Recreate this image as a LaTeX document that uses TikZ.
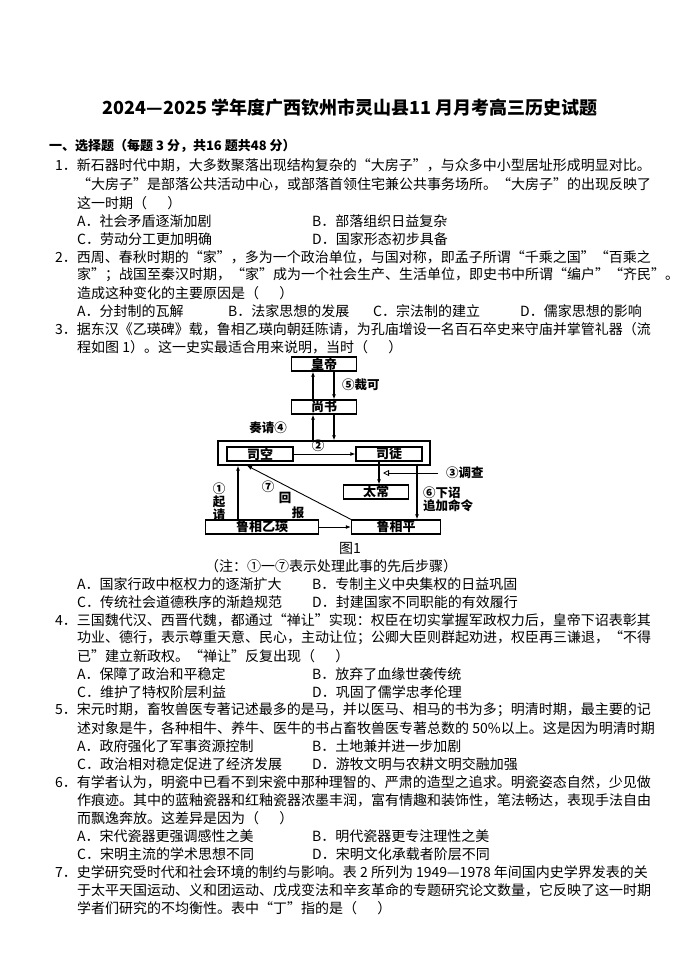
\documentclass[tikz,border=0pt]{standalone}
\usepackage{fontspec}
\setmainfont{Noto Sans CJK SC}
\usetikzlibrary{arrows.meta}
\newcommand\tl[4]{\node[txt] (#1) at (#2,#3) {#4};}
\begin{document}
\begin{tikzpicture}[x=1pt,y=-1pt,
 txt/.style={anchor=west,inner sep=0,font=\fontsize{14}{16}\selectfont},
 bx/.style={draw,line width=1.3pt,inner sep=0,minimum width=#1,minimum height=14,font=\fontsize{13}{14}\selectfont\bfseries},
 dl/.style={font=\fontsize{12.5}{14}\selectfont\bfseries,inner sep=0},
 ar/.style={line width=1.3pt,-{Latex[length=5pt,width=4pt]}},
 thin/.style={line width=0.9pt,-{Latex[length=5pt,width=4pt]}}]
\useasboundingbox (0,0) rectangle (700,980);
\fill[white] (0,0) rectangle (700,980);
\node[font=\fontsize{18}{20}\selectfont\bfseries,inner sep=0] (title) at (350,108) {2024—2025 学年度广西钦州市灵山县11 月月考高三历史试题};
\node[txt,font=\fontsize{13}{16}\selectfont\bfseries] (sec) at (49,146) {一、选择题（每题 3 分，共16 题共48 分）};
\tl{a1}{55}{165}{1．新石器时代中期，大多数聚落出现结构复杂的“大房子”，与众多中小型居址形成明显对比。}
\tl{a2}{77}{184}{“大房子”是部落公共活动中心，或部落首领住宅兼公共事务场所。“大房子”的出现反映了}
\tl{a3}{77}{203}{这一时期（\quad\ \ ）}
\tl{a4}{77}{221}{A．社会矛盾逐渐加剧}
\tl{a5}{312}{221}{B．部落组织日益复杂}
\tl{a6}{77}{239}{C．劳动分工更加明确}
\tl{a7}{312}{239}{D．国家形态初步具备}
\tl{b1}{55}{257}{2．西周、春秋时期的“家”，多为一个政治单位，与国对称，即孟子所谓“千乘之国”“百乘之}
\tl{b2}{77}{275}{家”；战国至秦汉时期，“家”成为一个社会生产、生活单位，即史书中所谓“编户”“齐民”。}
\tl{b3}{77}{293}{造成这种变化的主要原因是（\quad\ \ ）}
\tl{b4}{77}{311}{A．分封制的瓦解}
\tl{b5}{228}{311}{B．法家思想的发展}
\tl{b6}{373}{311}{C．宗法制的建立}
\tl{b7}{520}{311}{D．儒家思想的影响}
\tl{c1}{55}{329}{3．据东汉《乙瑛碑》载，鲁相乙瑛向朝廷陈请，为孔庙增设一名百石卒史来守庙并掌管礼器（流}
\tl{c2}{77}{347}{程如图 1）。这一史实最适合用来说明，当时（\quad\ \ ）}
% diagram
\node[bx=65] (hd) at (324,364) {皇帝};
\node[bx=65] (ss) at (324,407) {尚书};
\node[draw,line width=1.3pt,minimum width=212,minimum height=24,inner sep=0] (big) at (324,453) {};
\node[bx=66] (sk) at (260,454) {司空};
\node[bx=66] (st) at (389,454) {司徒};
\node[bx=65] (tc) at (376,492) {太常};
\node[bx=113] (yy) at (262,527) {鲁相乙瑛};
\node[bx=89] (lp) at (396,527) {鲁相平};
\draw[ar] (ss.north-|313,0) -- (hd.south-|313,0);
\draw[ar] (hd.south-|334,0) -- (ss.north-|334,0);
\draw[ar] (big.north-|313,0) -- (ss.south-|313,0);
\draw[ar] (ss.south-|334,0) -- (big.north-|334,0);
\draw[thin] (sk) -- (st);
\draw[ar] (st.south-|379,0) -- (tc.north-|379,0);
\draw[ar] (big.south-|417,0) -- (lp.north-|417,0);
\draw[ar] (yy.north-|238,0) -- (big.south-|238,0);
\draw[thin] (lp.north west) -- (big.south-|247,0);
\draw[thin] (yy) -- (lp);
\coordinate (c3) at (438,473);
\draw[line width=0.8pt,-{Triangle[open,length=6pt,width=6pt]}] (c3) -- (383,473);
\node[dl,anchor=west] (l5) at (342,385) {⑤裁可};
\node[dl] (l4) at (268,428) {奏请④};
\node[dl] (l2) at (318,446) {②};
\node[dl,anchor=west] (l3) at (446,473) {③调查};
\node[dl,anchor=west] (l6) at (423,493) {⑥下诏};
\node[dl,anchor=west] (l6b) at (423,506) {追加命令};
\node[dl] (l1a) at (219,489) {①};
\node[dl] (l1b) at (219,502) {起};
\node[dl] (l1c) at (219,515) {请};
\node[dl] (l7a) at (268,487) {⑦};
\node[dl] (l7b) at (285,498) {回};
\node[dl] (l7c) at (298,513) {报};
\node[txt,anchor=center] (fig) at (350,548) {图1};
\tl{c3t}{205}{566}{（注：①一⑦表示处理此事的先后步骤）}
\tl{c4}{77}{584}{A．国家行政中枢权力的逐渐扩大}
\tl{c5}{312}{584}{B．专制主义中央集权的日益巩固}
\tl{c6}{77}{602}{C．传统社会道德秩序的渐趋规范}
\tl{c7}{312}{602}{D．封建国家不同职能的有效履行}
\tl{d1}{55}{620}{4．三国魏代汉、西晋代魏，都通过“禅让”实现：权臣在切实掌握军政权力后，皇帝下诏表彰其}
\tl{d2}{77}{638}{功业、德行，表示尊重天意、民心，主动让位；公卿大臣则群起劝进，权臣再三谦退，“不得}
\tl{d3}{77}{656}{已”建立新政权。“禅让”反复出现（\quad\ \ ）}
\tl{d4}{77}{674}{A．保障了政治和平稳定}
\tl{d5}{312}{674}{B．放弃了血缘世袭传统}
\tl{d6}{77}{692}{C．维护了特权阶层利益}
\tl{d7}{312}{692}{D．巩固了儒学忠孝伦理}
\tl{e1}{55}{710}{5．宋元时期，畜牧兽医专著记述最多的是马，并以医马、相马的书为多；明清时期，最主要的记}
\tl{e2}{77}{728}{述对象是牛，各种相牛、养牛、医牛的书占畜牧兽医专著总数的 50\%以上。这是因为明清时期}
\tl{e3}{77}{746}{A．政府强化了军事资源控制}
\tl{e4}{312}{746}{B．土地兼并进一步加剧}
\tl{e5}{77}{764}{C．政治相对稳定促进了经济发展}
\tl{e6}{312}{764}{D．游牧文明与农耕文明交融加强}
\tl{f1}{55}{782}{6．有学者认为，明瓷中已看不到宋瓷中那种理智的、严肃的造型之追求。明瓷姿态自然，少见做}
\tl{f2}{77}{800}{作痕迹。其中的蓝釉瓷器和红釉瓷器浓墨丰润，富有情趣和装饰性，笔法畅达，表现手法自由}
\tl{f3}{77}{818}{而飘逸奔放。这差异是因为（\quad\ \ ）}
\tl{f4}{77}{836}{A．宋代瓷器更强调感性之美}
\tl{f5}{312}{836}{B．明代瓷器更专注理性之美}
\tl{f6}{77}{854}{C．宋明主流的学术思想不同}
\tl{f7}{312}{854}{D．宋明文化承载者阶层不同}
\tl{g1}{55}{872}{7．史学研究受时代和社会环境的制约与影响。表 2 所列为 1949—1978 年间国内史学界发表的关}
\tl{g2}{77}{890}{于太平天国运动、义和团运动、戊戌变法和辛亥革命的专题研究论文数量，它反映了这一时期}
\tl{g3}{77}{908}{学者们研究的不均衡性。表中“丁”指的是（\quad\ \ ）}
\end{tikzpicture}
\end{document}
